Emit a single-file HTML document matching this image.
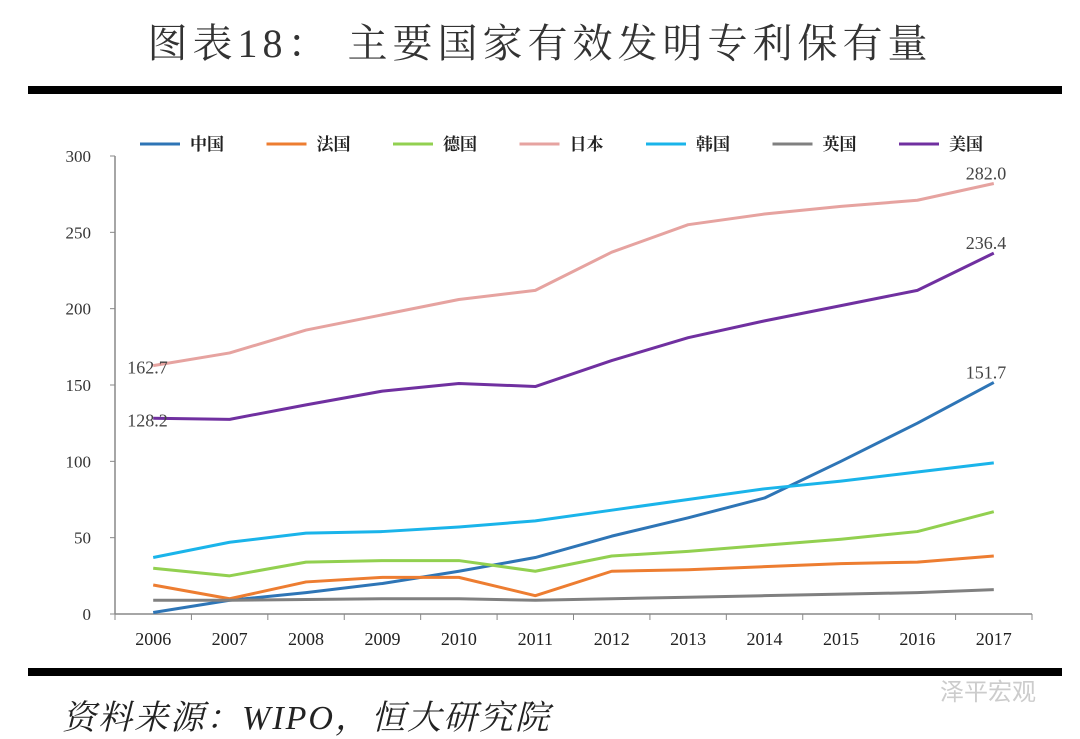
<!DOCTYPE html>
<html><head><meta charset="utf-8"><style>
body{margin:0;width:1080px;height:735px;background:#fff;overflow:hidden;position:relative;font-family:"Liberation Serif","Noto Serif CJK SC",serif}
#title{position:absolute;left:0;width:1080px;top:12px;text-align:center;font-size:40px;color:#333;letter-spacing:5px}
.rule{position:absolute;left:28px;width:1034px;height:8px;background:#000}
#src{position:absolute;left:62px;top:690px;font-size:34px;font-style:italic;color:#222;letter-spacing:2px}
#wm{position:absolute;left:940px;top:672px;font-size:24px;color:#ccc;font-family:"Liberation Sans","Noto Sans CJK SC",sans-serif}
</style></head><body>
<div id="title">图表18： 主要国家有效发明专利保有量</div>
<div class="rule" style="top:86px"></div>
<div class="rule" style="top:668px"></div>
<div id="src">资料来源：WIPO，恒大研究院</div>
<div id="wm">泽平宏观</div>
<svg id="chart" width="1080" height="735" style="position:absolute;left:0;top:0"></svg>
<script>
const years=["2006","2007","2008","2009","2010","2011","2012","2013","2014","2015","2016","2017"];
const yTicks=[0,50,100,150,200,250,300];
const seriesNames=["中国","法国","德国","日本","韩国","英国","美国"];
const seriesColors=["#2e75b6","#ed7d31","#92d050","#e6a3a0","#1ab4ea","#808080","#7030a0"];
const china=[1,9,14,20,28,37,51,63,76,100,125,151.7];
const france=[19,10,21,24,24,12,28,29,31,33,34,38];
const germany=[30,25,34,35,35,28,38,41,45,49,54,67];
const japan=[162.7,171,186,196,206,212,237,255,262,267,271,282];
const korea=[37,47,53,54,57,61,68,75,82,87,93,99];
const uk=[9,9,9.5,10,10,9,10,11,12,13,14,16];
const usa=[128.2,127.5,137,146,151,149,166,181,192,202,212,236.4];
const allSeries=[china,france,germany,japan,korea,uk,usa];
const svg=document.getElementById('chart');const NS='http://www.w3.org/2000/svg';
const x0=115,x1=1032,y0=614,y1=156,yMax=300;
const bw=(x1-x0)/years.length;
const X=i=>x0+bw*(i+0.5);const Y=v=>y0-(v/yMax)*(y0-y1);
function mk(t,a,txt){const e=document.createElementNS(NS,t);for(const k in a)e.setAttribute(k,a[k]);if(txt!=null)e.textContent=txt;svg.appendChild(e);return e;}
let ax=mk('line',{x1:x0,y1:y0,x2:x1,y2:y0,stroke:'#888','stroke-width':1.5});

let ay=mk('line',{x1:x0,y1:y0,x2:x0,y2:y1,stroke:'#888','stroke-width':1.5});

yTicks.forEach(v=>{mk('line',{x1:x0-5,y1:Y(v),x2:x0,y2:Y(v),stroke:'#888'});
 const t=mk('text',{x:x0-24,y:Y(v)+6,'text-anchor':'end','font-size':17,fill:'#333'},v);
 });
for(let i=0;i<=years.length;i++)mk('line',{x1:x0+bw*i,y1:y0,x2:x0+bw*i,y2:y0+6,stroke:'#888'});
years.forEach((y,i)=>{const t=mk('text',{x:X(i),y:y0+31,'text-anchor':'middle','font-size':18,fill:'#222'},y);
 });
allSeries.forEach((d,s)=>{const p=mk('polyline',{points:d.map((v,i)=>X(i)+','+Y(v)).join(' '),fill:'none',stroke:seriesColors[s],'stroke-width':3,'stroke-linejoin':'round'});
 });
const lbl=(v,i,dx,dy,anch)=>{const t=mk('text',{x:X(i)+dx,y:Y(v)+dy,'text-anchor':anch,'font-size':18,fill:'#444'},v.toFixed(1));
 };
lbl(japan[0],0,-26,8,'start');lbl(usa[0],0,-26,8,'start');
lbl(japan[11],11,-28,-4,'start');lbl(usa[11],11,-28,-4,'start');lbl(china[11],11,-28,-4,'start');
seriesNames.forEach((n,s)=>{const lx=140+s*126.5;
 const l=mk('line',{x1:lx,y1:144,x2:lx+40,y2:144,stroke:seriesColors[s],'stroke-width':3});
 
 const t=mk('text',{x:lx+50,y:150,'font-size':17,'font-weight':'bold',fill:'#222'},n);
 });
</script>
</body></html>
